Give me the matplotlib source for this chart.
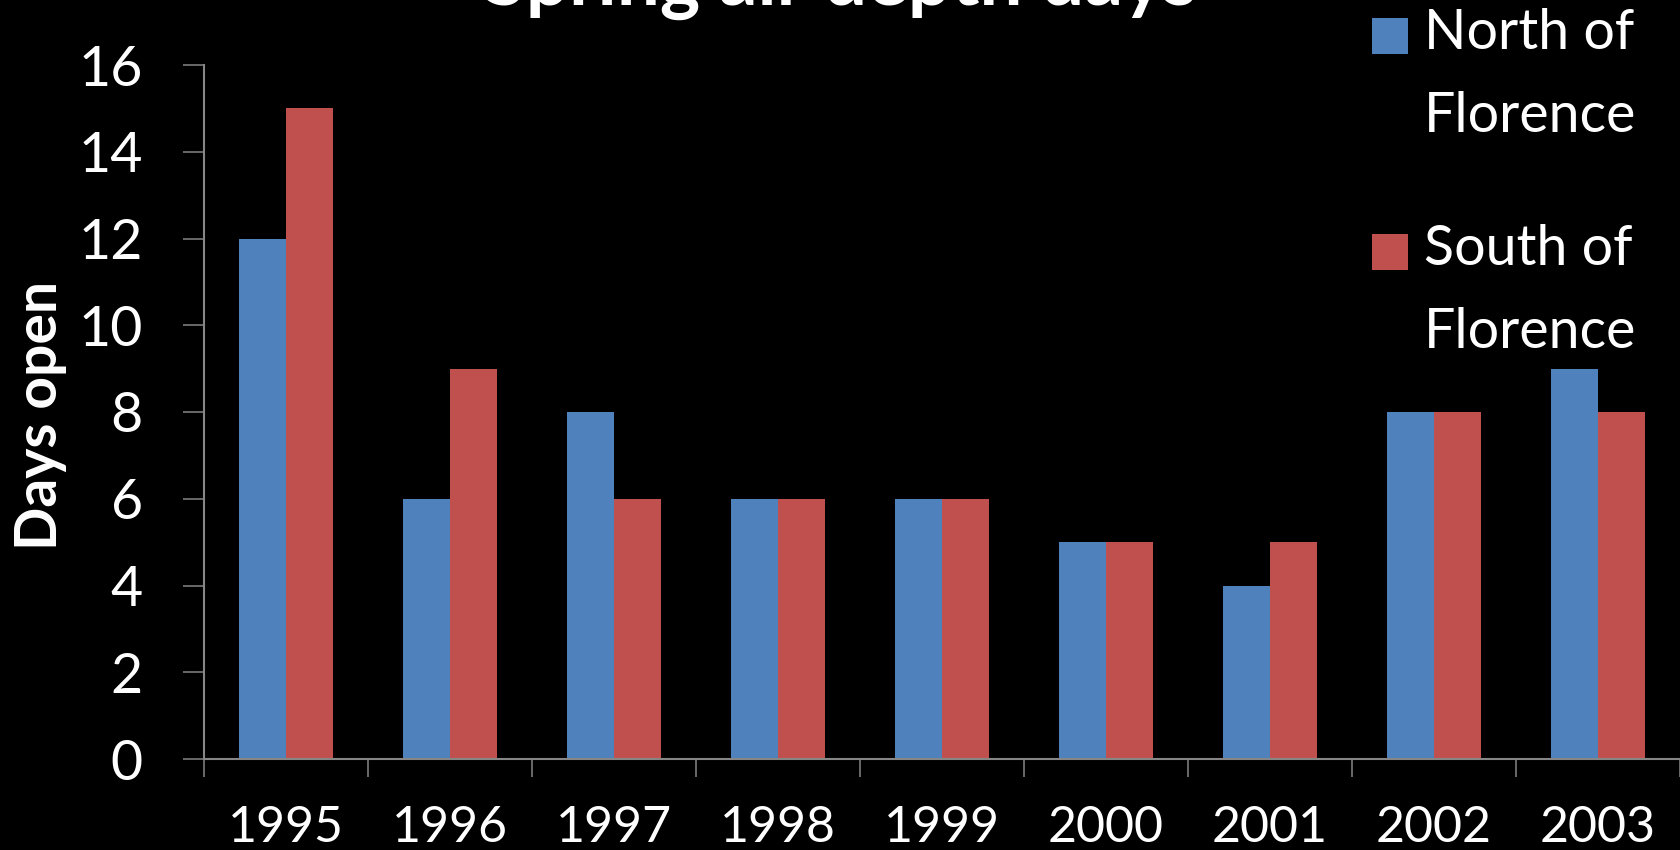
import numpy as np
import matplotlib
matplotlib.use("Agg")
import matplotlib.pyplot as plt
from matplotlib.patches import Rectangle

years = ["1995", "1996", "1997", "1998", "1999", "2000", "2001", "2002", "2003"]
north = [12, 6, 8, 6, 6, 5, 4, 8, 9]
south = [15, 9, 6, 6, 6, 5, 5, 8, 8]
labels = ["North of\nFlorence", "South of\nFlorence"]
colors = ["#4F81BD", "#C0504D"]
yticks = [0, 2, 4, 6, 8, 10, 12, 14, 16]

plt.rcParams['font.family'] = ['Lato', 'DejaVu Sans']
W, H = 1681, 850
fig = plt.figure(figsize=(W / 100, H / 100), dpi=100, facecolor='black')
ax = fig.add_axes([204 / W, 1 - 759 / H, 1476 / W, (759 - 65) / H])
ax.set_facecolor('black')

x = np.arange(len(years))
bw = 0.287
ax.bar(x - bw / 2, north, bw, color=colors[0], linewidth=0)
ax.bar(x + bw / 2, south, bw, color=colors[1], linewidth=0)

ax.set_xlim(-0.5, len(years) - 0.5)
ax.set_ylim(0, 16)
grey = '#868686'
for s in ['top', 'right']:
    ax.spines[s].set_visible(False)
for s in ['left', 'bottom']:
    ax.spines[s].set_color(grey)
    ax.spines[s].set_linewidth(1.5)

ax.set_yticks(yticks)
ax.tick_params(axis='y', length=15, width=1.1, color=grey, pad=29,
               labelsize=40, labelcolor='white')
ax.set_xticks(x)
ax.set_xticklabels(years)
ax.tick_params(axis='x', which='major', length=0, pad=33,
               labelsize=36, labelcolor='white')
ax.set_xticks(np.arange(-0.5, len(years)), minor=True)
ax.tick_params(axis='x', which='minor', length=13, width=1.1, color=grey)

fig.text(0.5, 1 - 5 / H, 'Spring all-depth days', ha='center', va='baseline',
         fontsize=55, fontweight='bold', color='white')
fig.text(41 / W, 1 - 415 / H, 'Days open', rotation=90, ha='center', va='center',
         fontsize=41, fontweight='bold', color='white')

# legend drawn by hand so the square sits on the first line
sq_top = [18, 234]
for lab, col, top in zip(labels, colors, sq_top):
    fig.add_artist(Rectangle((1372 / W, 1 - (top + 36) / H), 36 / W, 36 / H,
                             transform=fig.transFigure, color=col, linewidth=0))
    # baseline of the last line; first line sits 78 px above it
    fig.text(1424 / W, 1 - (top + 36 + 78) / H, lab, ha='left', va='baseline',
             fontsize=40, color='white', linespacing=1.77)

fig.savefig('out.png', dpi=100, facecolor='black')
